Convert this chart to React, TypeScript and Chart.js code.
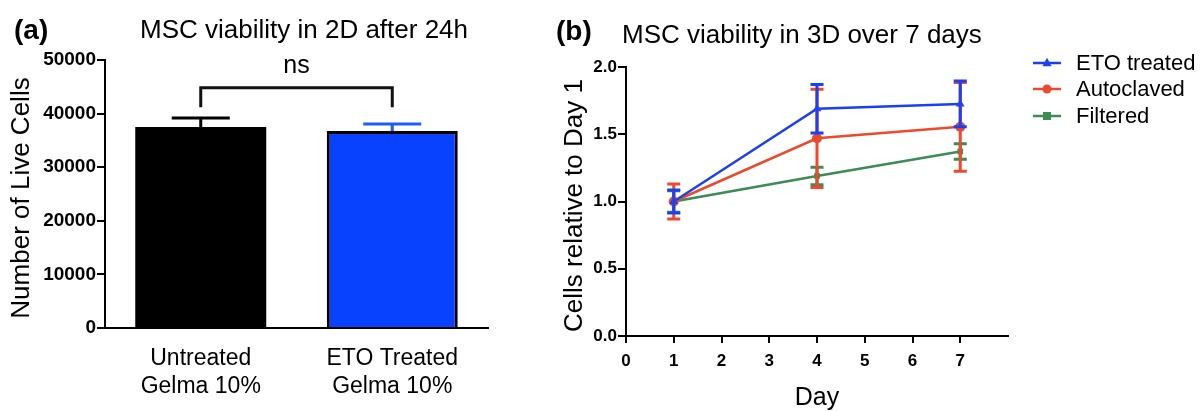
import React, { useEffect, useRef } from 'react';
import { Chart, registerables } from 'chart.js';

Chart.register(...registerables);

const FONT = "'Liberation Sans', Arial, Helvetica, sans-serif";

// ---------- Panel (a) data ----------
const barCategories = [
  ['Untreated', 'Gelma 10%'],
  ['ETO Treated', 'Gelma 10%'],
];
const barValues = [37500, 36750];
const barErrors = [1700, 1300];
const barColors = ['#000000', '#0842ff'];
const barErrorColors = ['#000000', '#1f5cff'];
const barYTicks = [0, 10000, 20000, 30000, 40000, 50000];
const sigLabel = 'ns';
const sigBracketTop = 44800;
const sigBracketLegEnd = 41200;

// ---------- Panel (b) data ----------
const days = [1, 4, 7];
const dayTicks = [0, 1, 2, 3, 4, 5, 6, 7];
const ratioTicks = [0, 0.5, 1.0, 1.5, 2.0];
const etoMean = [1.0, 1.69, 1.725];
const etoErr = [0.085, 0.18, 0.17];
const autoMean = [1.0, 1.47, 1.555];
const autoErr = [0.13, 0.365, 0.33];
const filtMean = [1.0, 1.19, 1.372];
const filtErr = [0.08, 0.065, 0.057];
const seriesNames = ['ETO treated', 'Autoclaved', 'Filtered'];
const seriesColors = ['#1b3ff2', '#ec4a2c', '#3d8b55'];
const seriesPoints = ['triangle', 'circle', 'rect'];

function drawText(
  ctx: CanvasRenderingContext2D,
  text: string,
  x: number,
  y: number,
  font: string,
  align: CanvasTextAlign = 'left',
  baseline: CanvasTextBaseline = 'alphabetic',
  rotation = 0,
  color = '#000'
) {
  ctx.save();
  ctx.font = font;
  ctx.fillStyle = color;
  ctx.textAlign = align;
  ctx.textBaseline = baseline;
  ctx.translate(x, y);
  if (rotation) ctx.rotate(rotation);
  ctx.fillText(text, 0, 0);
  ctx.restore();
}

function drawMarker(ctx: CanvasRenderingContext2D, style: string, x: number, y: number, r: number, color: string) {
  ctx.save();
  ctx.fillStyle = color;
  ctx.beginPath();
  if (style === 'circle') {
    ctx.arc(x, y, r, 0, Math.PI * 2);
  } else if (style === 'rect') {
    ctx.rect(x - r, y - r, 2 * r, 2 * r);
  } else {
    ctx.moveTo(x, y - r * 1.15);
    ctx.lineTo(x + r, y + r * 0.7);
    ctx.lineTo(x - r, y + r * 0.7);
    ctx.closePath();
  }
  ctx.fill();
  ctx.restore();
}

function makeChartA(canvas: HTMLCanvasElement) {
  const panelA = {
    id: 'panelA',
    afterDatasetsDraw(chart: any) {
      const ctx = chart.ctx as CanvasRenderingContext2D;
      const y = chart.scales.y;
      const meta = chart.getDatasetMeta(0);
      barValues.forEach((v, i) => {
        const cx = meta.data[i].x;
        const yBase = y.getPixelForValue(v);
        const yTop = y.getPixelForValue(v + barErrors[i]);
        ctx.save();
        ctx.strokeStyle = barErrorColors[i];
        ctx.lineWidth = 3;
        ctx.beginPath();
        ctx.moveTo(cx, yBase);
        ctx.lineTo(cx, yTop);
        ctx.moveTo(cx - 29, yTop);
        ctx.lineTo(cx + 29, yTop);
        ctx.stroke();
        ctx.restore();
      });
      // significance bracket
      const x0 = meta.data[0].x;
      const x1 = meta.data[1].x;
      const yb = y.getPixelForValue(sigBracketTop);
      const yl = y.getPixelForValue(sigBracketLegEnd);
      ctx.save();
      ctx.strokeStyle = '#111';
      ctx.lineWidth = 3;
      ctx.lineJoin = 'miter';
      ctx.beginPath();
      ctx.moveTo(x0, yl);
      ctx.lineTo(x0, yb);
      ctx.lineTo(x1, yb);
      ctx.lineTo(x1, yl);
      ctx.stroke();
      ctx.restore();
      drawText(ctx, sigLabel, (x0 + x1) / 2, 73, `25px ${FONT}`, 'center');
    },
    afterDraw(chart: any) {
      const ctx = chart.ctx as CanvasRenderingContext2D;
      const area = chart.chartArea;
      drawText(ctx, '(a)', 14, 39, `bold 28px ${FONT}`);
      drawText(ctx, 'MSC viability in 2D after 24h', 140, 38, `26px ${FONT}`);
      drawText(
        ctx,
        'Number of Live Cells',
        22,
        (area.top + area.bottom) / 2 + 4,
        `26px ${FONT}`,
        'center',
        'middle',
        -Math.PI / 2
      );
    },
  };

  return new Chart(canvas, {
    type: 'bar',
    data: {
      labels: barCategories as any,
      datasets: [
        {
          data: barValues,
          backgroundColor: barColors,
          borderColor: '#000',
          borderWidth: [0, 3] as any,
          borderSkipped: 'bottom',
          categoryPercentage: 1,
          barPercentage: 0.684,
        },
      ],
    },
    options: {
      responsive: false,
      animation: false,
      devicePixelRatio: 1,
      layout: { padding: { top: 60, right: 32, bottom: 0, left: 0 } },
      plugins: { legend: { display: false }, tooltip: { enabled: false }, title: { display: false } },
      scales: {
        x: {
          grid: { display: false, drawTicks: false },
          border: { display: true, color: '#000', width: 2 },
          ticks: {
            color: '#000',
            font: { size: 23, family: FONT, lineHeight: 1.22 },
            padding: 17,
            maxRotation: 0,
            autoSkip: false,
          },
          afterFit: (s: any) => {
            s.height = 84;
          },
        },
        y: {
          min: 0,
          max: 50000,
          grid: { drawOnChartArea: false, color: '#000', lineWidth: 2, tickLength: 8 },
          border: { color: '#000', width: 2 },
          ticks: {
            color: '#000',
            font: { size: 19, family: FONT, weight: 'bold' },
            padding: 1,
            callback: (v: any) => String(v),
          },
          afterBuildTicks: (s: any) => {
            s.ticks = barYTicks.map((v) => ({ value: v }));
          },
          afterFit: (s: any) => {
            s.width = 105;
          },
        },
      },
    },
    plugins: [panelA],
  } as any);
}

function makeChartB(canvas: HTMLCanvasElement) {
  const means = [etoMean, autoMean, filtMean];
  const errs = [etoErr, autoErr, filtErr];
  const panelB = {
    id: 'panelB',
    afterDatasetsDraw(chart: any) {
      const ctx = chart.ctx as CanvasRenderingContext2D;
      const x = chart.scales.x;
      const y = chart.scales.y;
      for (let s = means.length - 1; s >= 0; s--) {
        ctx.save();
        ctx.strokeStyle = seriesColors[s];
        ctx.lineWidth = 3;
        days.forEach((d, i) => {
          const px = x.getPixelForValue(d);
          const top = y.getPixelForValue(means[s][i] + errs[s][i]);
          const bot = y.getPixelForValue(means[s][i] - errs[s][i]);
          ctx.beginPath();
          ctx.moveTo(px, top);
          ctx.lineTo(px, bot);
          ctx.moveTo(px - 6.5, top);
          ctx.lineTo(px + 6.5, top);
          ctx.moveTo(px - 6.5, bot);
          ctx.lineTo(px + 6.5, bot);
          ctx.stroke();
        });
        ctx.restore();
      }
    },
    afterDraw(chart: any) {
      const ctx = chart.ctx as CanvasRenderingContext2D;
      const area = chart.chartArea;
      drawText(ctx, '(b)', 36, 40, `bold 28px ${FONT}`);
      drawText(ctx, 'MSC viability in 3D over 7 days', 102, 43, `26px ${FONT}`);
      drawText(
        ctx,
        'Cells relative to Day 1',
        55,
        (area.top + area.bottom) / 2 + 4,
        `26px ${FONT}`,
        'center',
        'middle',
        -Math.PI / 2
      );
      drawText(ctx, 'Day', (area.left + area.right) / 2, 398, `25px ${FONT}`, 'center', 'middle');
      // legend
      const rows = [63, 89, 116];
      seriesNames.forEach((name, i) => {
        const yy = rows[i];
        ctx.save();
        ctx.strokeStyle = seriesColors[i];
        ctx.lineWidth = 2.5;
        ctx.beginPath();
        ctx.moveTo(513, yy);
        ctx.lineTo(541, yy);
        ctx.stroke();
        ctx.restore();
        drawMarker(ctx, seriesPoints[i], 527, yy, i === 2 ? 4 : 4.5, seriesColors[i]);
        drawText(ctx, name, 556, yy + 1, `22px ${FONT}`, 'left', 'middle');
      });
    },
  };

  const datasets = seriesNames.map((name, s) => ({
    label: name,
    data: days.map((d, i) => ({ x: d, y: means[s][i] })),
    borderColor: seriesColors[s],
    backgroundColor: seriesColors[s],
    borderWidth: 2.5,
    pointStyle: seriesPoints[s],
    pointRadius: s === 2 ? 4 : 5,
    pointBorderWidth: 0,
    tension: 0,
  }));

  return new Chart(canvas, {
    type: 'line',
    data: { datasets },
    options: {
      responsive: false,
      animation: false,
      devicePixelRatio: 1,
      layout: { padding: { top: 67, right: 195, bottom: 0, left: 0 } },
      plugins: { legend: { display: false }, tooltip: { enabled: false }, title: { display: false } },
      scales: {
        x: {
          type: 'linear',
          min: 0,
          max: 8,
          grid: { drawOnChartArea: false, color: '#000', lineWidth: 2, tickLength: 7 },
          border: { color: '#000', width: 2 },
          ticks: {
            color: '#000',
            font: { size: 17, family: FONT, weight: 'bold' },
            padding: 8,
            maxRotation: 0,
            autoSkip: false,
            callback: (v: any) => String(v),
          },
          afterBuildTicks: (s: any) => {
            s.ticks = dayTicks.map((v) => ({ value: v }));
          },
          afterFit: (s: any) => {
            s.height = 76;
          },
        },
        y: {
          min: 0,
          max: 2,
          grid: { drawOnChartArea: false, color: '#000', lineWidth: 2, tickLength: 8 },
          border: { color: '#000', width: 2 },
          ticks: {
            color: '#000',
            font: { size: 17, family: FONT, weight: 'bold' },
            padding: 1,
            callback: (v: any) => Number(v).toFixed(1),
          },
          afterBuildTicks: (s: any) => {
            s.ticks = ratioTicks.map((v) => ({ value: v }));
          },
          afterFit: (s: any) => {
            s.width = 106;
          },
        },
      },
    },
    plugins: [panelB],
  } as any);
}

export default function App() {
  const refA = useRef<HTMLCanvasElement>(null);
  const refB = useRef<HTMLCanvasElement>(null);

  useEffect(() => {
    const a = makeChartA(refA.current!);
    const b = makeChartB(refB.current!);
    return () => {
      a.destroy();
      b.destroy();
    };
  }, []);

  return (
    <div
      style={{
        position: 'absolute',
        left: 0,
        top: 0,
        width: 1203,
        height: 412,
        background: '#fff',
        overflow: 'hidden',
      }}
    >
      <canvas
        ref={refA}
        width={520}
        height={412}
        style={{ position: 'absolute', left: 0, top: 0, width: 520, height: 412 }}
      />
      <canvas
        ref={refB}
        width={683}
        height={412}
        style={{ position: 'absolute', left: 520, top: 0, width: 683, height: 412 }}
      />
    </div>
  );
}
